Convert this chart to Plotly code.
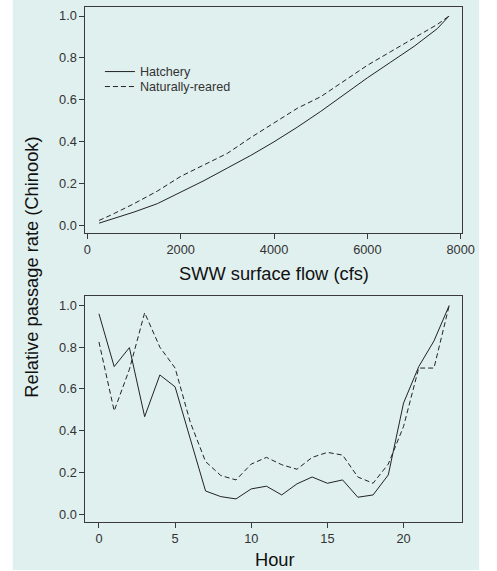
import plotly.graph_objects as go

# ---- data ----
flow = [250, 500, 1000, 1500, 2000, 2500, 3000, 3500, 4000, 4500, 5000, 5500, 6000, 6500, 7000, 7500, 7750]
flow_hatchery = [0.012, 0.03, 0.065, 0.105, 0.16, 0.215, 0.275, 0.335, 0.40, 0.47, 0.545, 0.625, 0.705, 0.78, 0.855, 0.94, 1.0]
flow_natural = [0.025, 0.05, 0.105, 0.165, 0.235, 0.29, 0.345, 0.42, 0.49, 0.56, 0.615, 0.69, 0.765, 0.83, 0.895, 0.96, 1.0]

hours = list(range(24))
hour_hatchery = [0.96, 0.707, 0.798, 0.467, 0.667, 0.61, 0.36, 0.111, 0.084, 0.073, 0.121, 0.134,
                 0.092, 0.145, 0.178, 0.148, 0.164, 0.081, 0.092, 0.188, 0.532, 0.707, 0.83, 1.0]
hour_natural = [0.825, 0.495, 0.694, 0.965, 0.80, 0.70, 0.44, 0.252, 0.185, 0.164, 0.24, 0.272,
                0.237, 0.215, 0.272, 0.296, 0.283, 0.178, 0.148, 0.24, 0.42, 0.70, 0.70, 1.0]

series_names = ["Hatchery", "Naturally-reared"]
x_title_top = "SWW surface flow (cfs)"
x_title_bottom = "Hour"
y_title = "Relative passage rate (Chinook)"

W, H = 497, 571
BG = "#E0F0EF"
INK = "#333333"
FONT = "Liberation Sans, Arial, sans-serif"

fig = go.Figure()
line_solid = dict(color="#222222", width=1)
line_dash = dict(color="#222222", width=1, dash="5px,3px")

fig.add_trace(go.Scatter(x=flow, y=flow_hatchery, mode="lines", line=line_solid,
                         name=series_names[0], legend="legend", xaxis="x", yaxis="y"))
fig.add_trace(go.Scatter(x=flow, y=flow_natural, mode="lines", line=line_dash,
                         name=series_names[1], legend="legend2", xaxis="x", yaxis="y"))
fig.add_trace(go.Scatter(x=hours, y=hour_hatchery, mode="lines", line=line_solid,
                         showlegend=False, xaxis="x2", yaxis="y2"))
fig.add_trace(go.Scatter(x=hours, y=hour_natural, mode="lines", line=line_dash,
                         showlegend=False, xaxis="x2", yaxis="y2"))

def px_x(p):
    return p / W

def px_y(p):
    return (H - p) / H

axis_common = dict(showline=True, mirror=True, linecolor="#3a3a3a", linewidth=1,
                   ticks="outside", ticklen=5, tickcolor="#3a3a3a", showgrid=False,
                   zeroline=False, tickfont=dict(family=FONT, size=12.8, color=INK))

legend_common = dict(xanchor="left", yanchor="middle", bgcolor="rgba(0,0,0,0)", borderwidth=0,
                     font=dict(family=FONT, size=12.6, color=INK))

title_font = dict(family=FONT, size=18.3, color="#111111")

fig.update_layout(
    width=W, height=H,
    margin=dict(l=0, r=0, t=0, b=0),
    paper_bgcolor="white",
    plot_bgcolor=BG,
    font=dict(family=FONT, color=INK),
    xaxis=dict(domain=[px_x(86), px_x(474)], anchor="y", range=[-42, 8021],
               tickvals=[0, 2000, 4000, 6000, 8000], **axis_common),
    yaxis=dict(domain=[px_y(233), px_y(7)], anchor="x", range=[-0.033, 1.043],
               tickvals=[0, 0.2, 0.4, 0.6, 0.8, 1.0], tickformat=".1f", **axis_common),
    xaxis2=dict(domain=[px_x(86), px_x(474)], anchor="y2", range=[-0.89, 23.82],
                tickvals=[0, 5, 10, 15, 20], **axis_common),
    yaxis2=dict(domain=[px_y(523), px_y(297)], anchor="x2", range=[-0.038, 1.043],
                tickvals=[0, 0.2, 0.4, 0.6, 0.8, 1.0], tickformat=".1f", **axis_common),
    showlegend=True,
    legend=dict(x=px_x(101), y=px_y(72), **legend_common),
    legend2=dict(x=px_x(101), y=px_y(87), **legend_common),
    shapes=[dict(type="rect", xref="paper", yref="paper", x0=px_x(11), x1=px_x(492),
                 y0=0, y1=1, fillcolor=BG, line=dict(width=0), layer="below")],
    annotations=[
        dict(text=x_title_top, xref="paper", yref="paper", x=px_x(280), y=px_y(274),
             showarrow=False, font=title_font, xanchor="center", yanchor="middle"),
        dict(text=x_title_bottom, xref="paper", yref="paper", x=px_x(281), y=px_y(560),
             showarrow=False, font=title_font, xanchor="center", yanchor="middle"),
        dict(text=y_title, xref="paper", yref="paper", x=px_x(30), y=px_y(268),
             showarrow=False, textangle=-90, font=title_font,
             xanchor="center", yanchor="middle"),
    ],
)

fig.write_html("out.html", config={"displayModeBar": False},
               post_script="document.body.style.margin='0px';")
